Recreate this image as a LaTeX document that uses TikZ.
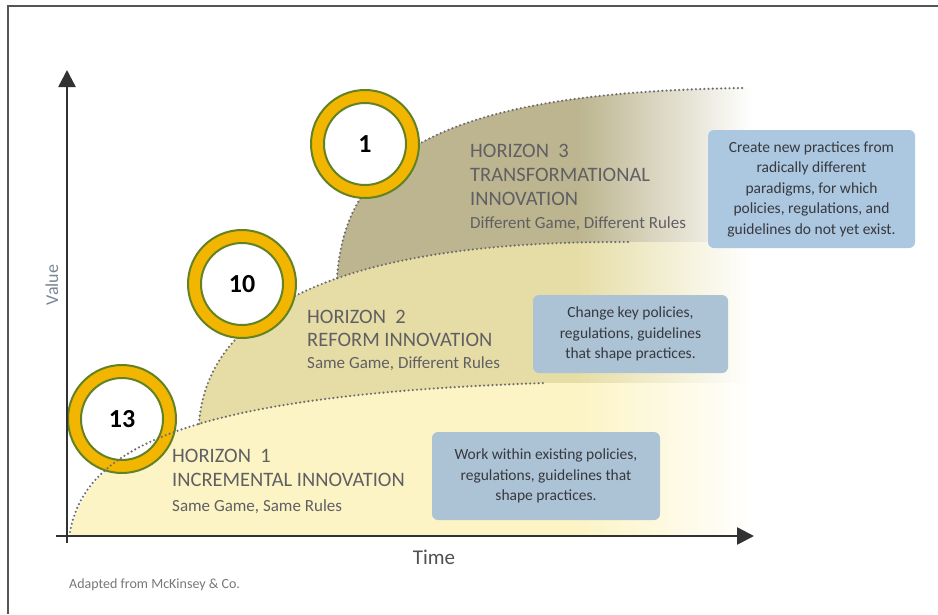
\documentclass[tikz,border=0pt]{standalone}
\usepackage{fontspec}
\setmainfont{Carlito}
\usetikzlibrary{arrows.meta}

% palette
\definecolor{hOne}{RGB}{252,244,196}
\definecolor{hTwo}{RGB}{230,221,166}
\definecolor{hThree}{RGB}{188,181,143}
\definecolor{ringyellow}{RGB}{242,182,0}
\definecolor{ringgreen}{RGB}{100,130,35}
\definecolor{boxblue}{RGB}{172,199,224}
\definecolor{boxgray}{RGB}{172,194,213}
\definecolor{boxtext}{RGB}{55,57,62}
\definecolor{labelgray}{RGB}{96,96,100}
\definecolor{dotgray}{RGB}{110,110,110}
\definecolor{axisgray}{RGB}{50,50,50}
\definecolor{framegray}{RGB}{85,85,85}
\definecolor{valuegray}{RGB}{120,134,150}
\definecolor{notegray}{RGB}{120,120,120}

% horizontal fills that fade to white on the right
\pgfdeclarehorizontalshading{fadeOne}{100bp}{color(0bp)=(hOne); color(62bp)=(hOne); color(74.5bp)=(white); color(100bp)=(white)}
\pgfdeclarehorizontalshading{fadeTwo}{100bp}{color(0bp)=(hTwo); color(62bp)=(hTwo); color(74.5bp)=(white); color(100bp)=(white)}
\pgfdeclarehorizontalshading{fadeThree}{100bp}{color(0bp)=(hThree); color(62bp)=(hThree); color(74.5bp)=(white); color(100bp)=(white)}

\begin{document}
\begin{tikzpicture}[x=1pt,y=-1pt,
  dotline/.style={draw=dotgray, line width=2.4pt, dash pattern=on 0pt off 4.2pt, line cap=round},
  axisline/.style={draw=axisgray, line width=2.6pt, -{Triangle[width=17pt,length=17pt]}},
  ring/.style={circle, minimum size=108pt, inner sep=0pt, fill=ringyellow, draw=ringgreen, line width=2pt},
  disc/.style={circle, minimum size=82pt, inner sep=0pt, fill=white, draw=ringgreen, line width=2pt,
    font=\bfseries\fontsize{26}{26}\selectfont, text=black},
  hcap/.style={anchor=base west, inner sep=0pt, text=labelgray, font=\fontsize{20.5}{24}\selectfont},
  hsub/.style={anchor=base west, inner sep=0pt, text=labelgray, font=\fontsize{17}{20}\selectfont},
  infobox/.style={rounded corners=6pt, align=center, inner sep=0pt, text=boxtext,
    font=\fontsize{15.5}{20.5}\selectfont},
]
\useasboundingbox (0,0) rectangle (938,614);
\fill[white] (0,0) rectangle (938,614);

% outer frame
\draw[framegray, line width=2pt] (8,614) -- (8,6) -- (938,6);

% horizon 3 area
\begin{scope}
  \clip (337,278) .. controls (345,160) and (430,92) .. (745,88) -- (760,88) -- (760,536) -- (337,536) -- cycle;
  \shade[shading=fadeThree] (60,60) rectangle (760,540);
\end{scope}
% horizon 2 area
\begin{scope}
  \clip (199,424) .. controls (205,330) and (300,240) .. (630,242) -- (760,242) -- (760,536) -- (199,536) -- cycle;
  \shade[shading=fadeTwo] (60,60) rectangle (760,540);
\end{scope}
% horizon 1 area
\begin{scope}
  \clip (70,536) .. controls (85,450) and (180,395) .. (545,383) -- (760,383) -- (760,536) -- cycle;
  \shade[shading=fadeOne] (60,60) rectangle (760,540);
\end{scope}

% first ring sits under its curve
\node[ring] (r13) at (122,419) {};
\node[disc] (n13) at (r13.center) {13};

% horizon curves
\draw[dotline] (70,532) .. controls (85,450) and (180,395) .. (545,383);
\draw[dotline] (199,424) .. controls (205,330) and (300,240) .. (630,242);
\draw[dotline] (337,278) .. controls (345,160) and (430,92) .. (745,88);

% remaining rings
\node[ring] (r10) at (242,284) {};
\node[disc] (n10) at (r10.center) {10};
\node[ring] (r1) at (365,144) {};
\node[disc] (n1) at (r1.center) {1};

% axes
\coordinate (ybot) at (67,543);
\coordinate (ytop) at (67,70);
\coordinate (xleft) at (56,536);
\coordinate (xright) at (754,536);
\draw[axisline] (ybot) -- (ytop);
\draw[axisline] (xleft) -- (xright);

\node[font=\fontsize{21}{21}\selectfont, text=axisgray!85] (time) at (434,557) {Time};
\node[rotate=90, font=\fontsize{18}{18}\selectfont, text=valuegray] (value) at (52,285) {Value};
\node[anchor=west, inner sep=0pt, font=\fontsize{14}{14}\selectfont, text=notegray] (source) at (69,585) {Adapted from McKinsey \& Co.};

% horizon labels
\node[hcap] (h3a) at (470,157) {HORIZON\ \ 3};
\node[hcap] (h3b) at (470,181) {TRANSFORMATIONAL};
\node[hcap] (h3c) at (470,205) {INNOVATION};
\node[hsub] (h3d) at (470,228) {Different Game, Different Rules};

\node[hcap] (h2a) at (307,323) {HORIZON\ \ 2};
\node[hcap] (h2b) at (307,346) {REFORM INNOVATION};
\node[hsub] (h2c) at (307,368) {Same Game, Different Rules};

\node[hcap] (h1a) at (172,462) {HORIZON\ \ 1};
\node[hcap] (h1b) at (172,486) {INCREMENTAL INNOVATION};
\node[hsub] (h1c) at (172,511) {Same Game, Same Rules};

% description boxes
\node[infobox, fill=boxblue, minimum width=207pt, minimum height=118pt] (b3) at (811.5,189)
  {Create new practices from\\radically different\\paradigms, for which\\policies, regulations, and\\guidelines do not yet exist.};
\node[infobox, fill=boxgray, minimum width=195pt, minimum height=78pt] (b2) at (630.5,334)
  {Change key policies,\\regulations, guidelines\\that shape practices.};
\node[infobox, fill=boxgray, minimum width=228pt, minimum height=88pt] (b1) at (546,476)
  {Work within existing policies,\\regulations, guidelines that\\shape practices.};
\end{tikzpicture}
\end{document}
